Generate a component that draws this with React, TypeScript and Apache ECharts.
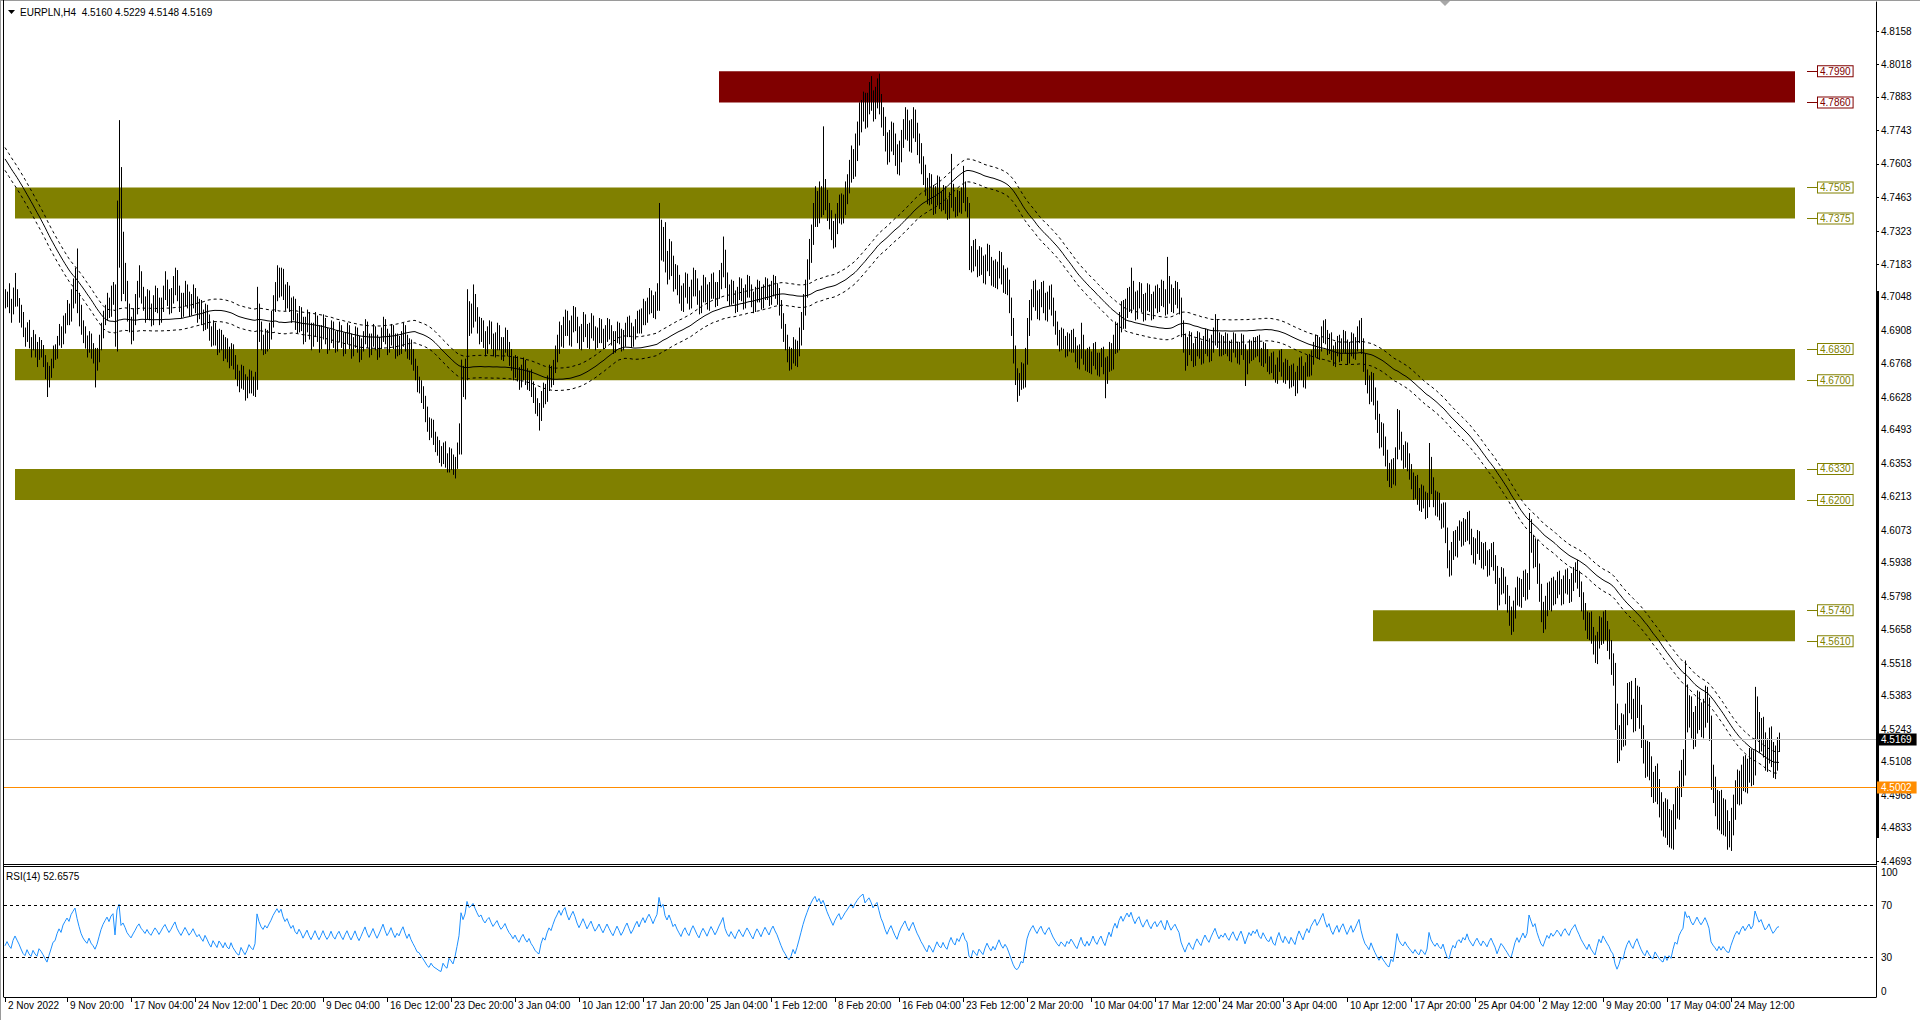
import React, { useEffect, useRef } from "react";
import * as echarts from "echarts";

const FONT = "'Liberation Sans', Arial, sans-serif";

const symbolTitle = "EURPLN,H4  4.5160 4.5229 4.5148 4.5169";
const rsiTitle = "RSI(14) 52.6575";

// closes before the first visible bar (only feed the moving average / RSI), pips above 4.0000
const warmupCloses = [
  8080, 8065, 8090, 8050, 8030, 8060, 8075, 8040, 8020, 8055, 8070, 8045, 8025, 8060, 8080, 8050,
  8035, 8065, 8050, 8030, 8060, 8075, 8045, 8020, 8040, 8065, 8050, 8030, 8055, 8070, 8040, 8025,
  7950, 7900, 7870, 7840, 7860, 7830, 7800, 7820, 7850, 7810, 7790, 7820, 7840, 7800, 7780, 7810, 7790,
  7650, 7450, 7280, 7150, 7080, 7040, 7010, 7050, 7020, 6990, 7030, 7060, 7020, 6985, 7015,
  7050, 7030, 6995, 6970, 7010, 7045, 7020, 6990, 7025, 7060, 7035, 7000, 6980, 7010, 7040,
];

// H4 closes, pips above 4.0000
const closes = [
  7020, 7045, 7010, 6985, 7032, 7060, 7028, 6995, 6950, 6905, 6880, 6912, 6868, 6840, 6872, 6835, 6810, 6850, 6825, 6790,
  6745, 6700, 6735, 6770, 6810, 6820, 6865, 6900, 6875, 6930, 6960, 6990, 6970, 7030, 7065, 7100, 7040,
  6985, 6930, 6890, 6862, 6840, 6875, 6830, 6805, 6770, 6800, 6850,
  6905, 6950, 6985, 7020, 6990, 7045, 7070, 6900, 7250, 7380, 7100, 7150,
  7080, 6990, 6940, 6895, 6955, 7010, 7075, 7120, 7060, 7025, 6985, 7040, 6990, 6960, 7010, 7055, 7020, 6975,
  7015, 7060, 7095, 7050, 7010, 7045, 7090, 7130, 7070, 7030, 6995, 7035, 7075, 7040, 7000, 7025, 7060, 7020, 6985, 7005,
  6970, 6940, 6985, 6950, 6905, 6870, 6915, 6880, 6845, 6890, 6860, 6820, 6855, 6810, 6790, 6830, 6780,
  6745, 6710, 6695, 6740, 6700, 6660, 6685, 6720, 6690, 6670, 6705, 6990,
  6920, 6870, 6840, 6885, 6860, 6905, 6950, 7010, 7060, 7110, 7080,
  7130, 7070, 7030, 7065, 7020, 6980, 7010, 6955, 6930, 6975,
  6940, 6890, 6925, 6960, 6910, 6870, 6905, 6945, 6900, 6860, 6895, 6935, 6890, 6855, 6880, 6920, 6875,
  6850, 6885, 6910, 6870, 6840, 6875, 6905, 6865, 6830, 6860, 6895, 6850, 6815, 6845, 6880, 6915, 6870, 6835, 6865, 6900, 6860, 6825, 6855, 6890, 6930, 6885, 6845, 6870, 6905, 6865, 6830, 6860, 6840,
  6875, 6905, 6860, 6820, 6850, 6805, 6770, 6735, 6690,
  6680, 6645, 6610, 6570, 6520, 6490, 6510, 6465, 6440, 6420, 6395,
  6380, 6415, 6370, 6345, 6390, 6360, 6320, 6355, 6410, 6480,
  6720, 6660, 6740, 6990, 6930,
  6960, 7020, 6975, 6930, 6890, 6920, 6870, 6840, 6885, 6915, 6870, 6830, 6865, 6900, 6855, 6820, 6845, 6880, 6835, 6800,
  6775, 6740, 6770, 6730, 6700, 6735, 6760, 6720, 6690, 6715, 6670, 6640, 6600, 6575, 6560, 6620, 6660, 6640, 6690, 6730, 6710, 6760,
  6810, 6850, 6900, 6870, 6925, 6960, 6915, 6880, 6930, 6975, 6940, 6895, 6860, 6900, 6945, 6910, 6870, 6905, 6940, 6900, 6865, 6890, 6925,
  6890, 6860, 6895, 6930, 6900, 6870, 6845, 6880, 6915, 6885, 6850, 6875, 6910, 6940, 6905, 6870, 6895, 6930, 6960, 6925,
  6965, 7000, 6970, 7010, 7045, 7020, 6990, 7030, 7070, 7310,
  7240, 7290, 7200, 7160, 7230, 7180, 7120, 7150, 7100, 7060,
  7020, 7075, 7110, 7060, 7030, 7085, 7130, 7090, 7045, 7010, 7060, 7100, 7065, 7025, 7070, 7115, 7080, 7040, 7075, 7120, 7160, 7210, 7120, 7070,
  7040, 7085, 7050, 7015, 7060, 7095, 7060, 7030, 7070, 7105, 7075, 7040, 7010, 7055, 7090, 7060, 7025, 7065, 7100, 7070, 7040, 7080, 7110, 7075, 7045,
  7000, 6950, 6900, 6860, 6815, 6780, 6800, 6840, 6790, 6830,
  6880, 6940, 7010, 7080, 7150, 7230, 7300, 7380, 7440, 7400, 7470, 7430, 7500,
  7460, 7410, 7370, 7330, 7290, 7350, 7400, 7440, 7390, 7430, 7480, 7520, 7570, 7620, 7590, 7660, 7720, 7780,
  7820, 7860, 7800, 7850, 7900, 7870, 7830, 7880, 7920, 7860, 7800, 7760,
  7700, 7650, 7700, 7740, 7690, 7640, 7600, 7660, 7710, 7750, 7790, 7740, 7700, 7750, 7790, 7740, 7690, 7650,
  7600, 7560, 7510, 7470, 7520, 7480, 7430, 7470, 7510, 7460,
  7440, 7480, 7430, 7400, 7450, 7490, 7440, 7410, 7460, 7430, 7470, 7500, 7440, 7410, 7220, 7190, 7250,
  7210, 7170, 7220, 7180, 7140, 7190, 7230, 7175, 7130, 7165, 7120, 7160, 7200, 7140, 7100, 7130, 7090,
  7020, 6930, 6820, 6720, 6680, 6700, 6740, 6710, 6800, 6920,
  6990, 7040, 7080, 7030, 6990, 7040, 7075, 7020, 6985, 7030, 7060, 7010, 6960,
  6920, 6880, 6850, 6885, 6860, 6830, 6870, 6845, 6880, 6850,
  6810, 6780, 6820, 6860, 6800, 6770, 6805, 6760, 6790, 6830, 6780, 6750, 6785, 6810, 6760, 6720, 6770,
  6820, 6780, 6850, 6900, 6860, 6940, 6990, 6950,
  7000, 7050, 7020, 7080, 7030, 6990, 7040, 7070, 7020, 6985, 7030, 7065, 7020, 6990, 7035,
  7060, 7020, 7050, 7080, 7040, 7010, 7100, 7060, 7020, 7050, 7075, 7040, 7010, 6920, 6860, 6800, 6840,
  6870, 6820, 6790, 6835, 6870, 6830, 6800, 6845, 6880, 6840, 6810, 6850, 6885, 6920, 6870, 6830,
  6860, 6840, 6870, 6835, 6810, 6845, 6870, 6830, 6800, 6835, 6865, 6820, 6760, 6800, 6840, 6815, 6850,
  6830, 6860, 6810, 6790, 6830, 6800, 6770,
  6760, 6790, 6740, 6720, 6765, 6800, 6750, 6720, 6760, 6730, 6700, 6740, 6710, 6680, 6730, 6770, 6735, 6700, 6745, 6780, 6750, 6800, 6830,
  6860, 6820, 6850, 6890, 6930, 6880, 6840, 6870, 6820, 6790, 6830, 6860, 6810, 6850, 6880, 6840, 6800, 6835, 6870, 6820, 6850, 6890, 6930,
  6850, 6780, 6720, 6690, 6650, 6700, 6640,
  6580, 6520, 6460, 6490, 6430, 6380, 6320, 6290, 6340, 6300, 6380, 6540, 6450,
  6400, 6370, 6410, 6360, 6320,
  6280, 6240, 6270, 6220, 6190, 6230, 6200, 6160, 6200, 6350, 6260, 6210, 6170, 6200, 6150, 6120, 6160,
  6060, 5960, 5920, 5990, 6040, 6000, 6060, 6080, 6040, 6090, 6060, 6120, 6050,
  6010, 5970, 6010, 6040, 5990, 5950, 5990, 5960, 5920, 5960, 5990, 5940, 5890, 5800,
  5840, 5880, 5850, 5810, 5770, 5720, 5690, 5740, 5800, 5840, 5790, 5830, 5870, 5820, 5860,
  6080, 6020, 5960, 6000, 5900, 5820, 5740, 5700, 5760, 5820, 5780, 5840, 5800,
  5830, 5870, 5840, 5800, 5850, 5880, 5840, 5810, 5860, 5890, 5920, 5870, 5830,
  5780, 5740, 5700, 5660, 5700, 5640, 5600, 5560, 5620, 5680, 5640, 5700,
  5660, 5620, 5580, 5520, 5480, 5300, 5160, 5200, 5260, 5220, 5300, 5360,
  5400, 5330, 5280, 5340, 5380, 5300, 5220, 5150, 5100, 5150, 5080, 5020, 4990, 5050, 4990, 4930,
  4880, 4850, 4900, 4810, 4850, 4800, 4880, 4950, 4920, 5010, 5060, 5100, 5370, 5300,
  5330, 5260, 5220, 5280, 5350, 5300, 5260, 5310, 5370, 5320, 5250, 5050, 4990,
  4940, 4880, 4930, 4860, 4900, 4850, 4800, 4790, 4860, 4920, 4980, 5020, 4980, 5040, 5080, 5030, 5070, 5110, 5060, 5100,
  5320, 5260, 5200, 5240, 5180, 5120, 5150, 5200, 5140, 5090, 5120, 5160, 5169,
];

// upper wick above max(open, close), pips
const upperWicks = [
  40, 25, 60, 30, 55, 88, 20, 15, 20, 35, 15, 30, 40, 12, 38, 20, 25, 30, 18, 22,
  15, 30, 25, 20, 35, 30, 20, 35, 25, 40, 20, 45, 30, 50, 60, 70, 150,
  25, 30, 20, 35, 25, 30, 20, 25, 30, 35, 40,
  35, 40, 30, 45, 25, 50, 40, 30, 200, 406, 210, 170,
  40, 35, 30, 25, 45, 50, 40, 60, 35, 30, 25, 40, 35, 30, 45, 40, 30, 25,
  30, 35, 60, 25, 30, 40, 45, 40, 30, 25, 35, 30, 40, 25, 30, 35, 40, 25, 30, 35,
  30, 25, 35, 30, 25, 20, 35, 25, 30, 25, 20, 30, 25, 20, 30, 25, 20,
  25, 20, 30, 25, 20, 25, 30, 25, 20, 25, 30, 100,
  30, 25, 20, 30, 25, 35, 40, 45, 50, 70, 60,
  40, 35, 30, 45, 30, 25, 40, 30, 25, 35,
  30, 25, 40, 35, 25, 30, 35, 40, 25, 30, 35, 40, 25, 30, 35, 30, 25,
  30, 25, 35, 20, 30, 25, 35, 25, 30, 20, 30, 25, 35, 30, 25, 40, 30, 25, 30, 35, 25, 30, 25, 30, 35, 25, 30, 25, 30, 25, 30, 35, 25,
  30, 35, 25, 30, 25, 20, 25, 20, 25,
  25, 20, 30, 25, 20, 25, 30, 25, 20, 25, 30,
  30, 25, 30, 25, 30, 25, 30, 25, 30, 40,
  66, 40, 50, 90, 40,
  60, 80, 40, 30, 35, 40, 30, 35, 40, 35, 30, 25, 35, 40, 30, 25, 35, 40, 30, 25,
  30, 25, 35, 30, 25, 30, 35, 25, 30, 25, 30, 25, 30, 25, 30, 35, 30, 25, 30, 35, 30, 25,
  35, 40, 45, 30, 40, 35, 30, 35, 40, 35, 30, 25, 30, 35, 40, 30, 25, 35, 40, 30, 25, 30, 35,
  30, 25, 35, 30, 25, 30, 35, 25, 30, 25, 30, 35, 30, 25, 30, 35, 30, 25, 30, 35,
  35, 40, 30, 35, 40, 30, 35, 40, 35, 130,
  60, 50, 70, 40, 60, 50, 40, 35, 30, 40,
  35, 30, 40, 35, 30, 35, 40, 30, 35, 30, 35, 40, 30, 35, 40, 30, 35, 30, 35, 40, 30, 90, 35, 30,
  30, 35, 30, 25, 30, 35, 30, 25, 30, 35, 30, 25, 30, 35, 30, 25, 30, 35, 30, 25, 30, 35, 30, 25, 30,
  40, 35, 30, 35, 30, 25, 35, 40, 30, 35,
  40, 45, 50, 40, 55, 60, 50, 60, 70, 50, 60, 40, 260,
  40, 35, 30, 40, 35, 45, 40, 35, 40, 45, 50, 40, 50, 60, 45, 70, 60, 80,
  50, 45, 40, 50, 45, 70, 40, 45, 40, 60, 35, 40,
  40, 35, 45, 40, 35, 40, 45, 40, 35, 40, 50, 40, 45, 40, 50, 40, 35, 40,
  40, 35, 40, 35, 45, 40, 35, 40, 45, 40,
  30, 35, 30, 25, 35, 155, 30, 25, 35, 30, 35, 95, 30, 25, 30, 40, 35,
  40, 35, 40, 35, 40, 35, 40, 35, 40, 35, 40, 35, 40, 35, 40, 35, 40,
  30, 25, 30, 25, 30, 30, 35, 30, 35, 40,
  45, 40, 35, 40, 45, 40, 35, 40, 45, 40, 35, 40, 35,
  30, 25, 30, 35, 30, 25, 30, 25, 30, 35,
  30, 35, 30, 80, 30, 25, 30, 35, 30, 25, 30, 35, 30, 25, 30, 35, 30,
  40, 35, 40, 45, 40, 45, 40, 45,
  40, 35, 40, 90, 35, 40, 35, 40, 35, 40, 35, 40, 35, 40, 35,
  35, 40, 35, 40, 35, 40, 115, 35, 40, 35, 40, 35, 40, 35, 30, 35, 40,
  35, 30, 35, 40, 35, 30, 35, 40, 35, 30, 35, 40, 35, 56, 35, 30,
  30, 25, 30, 25, 30, 25, 30, 25, 30, 25, 30, 25, 30, 25, 30, 25, 30,
  30, 25, 30, 25, 30, 25, 30,
  30, 25, 30, 25, 30, 25, 30, 25, 30, 25, 30, 25, 30, 25, 30, 25, 30, 25, 30, 25, 30, 25, 30,
  30, 25, 30, 35, 20, 25, 30, 25, 30, 25, 30, 25, 30, 25, 30, 25, 30, 25, 30, 25, 30, 35, 20,
  30, 25, 30, 25, 30, 35, 30,
  30, 35, 40, 35, 30, 35, 30, 35, 30, 35, 40, 40, 35,
  35, 30, 35, 30, 35,
  30, 35, 30, 35, 30, 35, 30, 35, 30, 88, 30, 35, 30, 35, 30, 35, 30,
  30, 25, 30, 35, 30, 35, 30, 35, 30, 35, 30, 30, 35,
  30, 35, 30, 35, 30, 35, 30, 35, 30, 35, 30, 35, 30, 35,
  35, 40, 35, 30, 35, 30, 35, 40, 35, 40, 35, 40, 35, 40, 35,
  66, 40, 35, 40, 35, 35, 30, 35, 40, 35, 40, 35, 40,
  35, 30, 35, 30, 35, 30, 35, 30, 35, 30, 20, 30, 35,
  30, 35, 30, 35, 30, 35, 30, 35, 30, 35, 30, 35,
  40, 35, 40, 35, 40, 40, 50, 60, 50, 45, 50, 76,
  40, 45, 40, 117, 45, 40, 45, 40, 50, 45, 40, 50, 45, 40, 50, 45,
  50, 60, 55, 50, 60, 55, 50, 50, 55, 60, 55, 60, 160, 60,
  55, 50, 55, 60, 55, 50, 55, 60, 55, 50, 55, 50, 45,
  55, 50, 55, 60, 55, 50, 55, 60, 55, 50, 50, 55, 50, 55, 50, 55, 50, 55, 50, 55,
  100, 60, 55, 50, 55, 50, 55, 50, 55, 50, 55, 50, 60,
];

// lower wick below min(open, close), pips
const lowerWicks = [
  20, 15, 30, 45, 10, 25, 20, 55, 30, 25, 40, 20, 35, 45, 15, 40, 55, 25, 30, 35,
  40, 70, 30, 25, 20, 25, 30, 20, 40, 25, 35, 30, 40, 25, 30, 45, 60,
  60, 40, 35, 30, 45, 25, 40, 35, 100, 30, 25,
  25, 30, 20, 35, 30, 25, 30, 60, 80, 80, 70, 40,
  50, 45, 40, 45, 30, 25, 35, 30, 40, 35, 45, 30, 40, 35, 30, 25, 40, 45,
  35, 30, 25, 40, 35, 30, 25, 35, 40, 45, 35, 30, 25, 40, 35, 30, 25, 40, 45, 30,
  40, 35, 30, 35, 40, 30, 25, 35, 40, 30, 35, 40, 30, 35, 40, 30, 35,
  40, 35, 45, 30, 40, 45, 35, 40, 45, 35, 40, 45,
  60, 45, 35, 30, 40, 30, 35, 30, 25, 30, 35,
  30, 35, 40, 30, 35, 40, 30, 45, 35, 30,
  35, 40, 30, 25, 40, 45, 30, 25, 40, 45, 30, 25, 40, 45, 30, 25, 40,
  35, 30, 25, 35, 40, 30, 25, 35, 40, 30, 25, 35, 40, 30, 25, 30, 35, 40, 30, 25, 35, 40, 30, 25, 30, 35, 40, 30, 25, 35, 40, 30, 35,
  30, 35, 40, 30, 35, 40, 30, 35, 40,
  35, 40, 30, 45, 35, 40, 30, 35, 40, 35, 40,
  40, 30, 35, 30, 30, 35, 15, 30, 25, 20,
  90, 30, 40, 40, 45,
  35, 40, 30, 35, 40, 30, 35, 40, 30, 35, 40, 30, 35, 40, 30, 35, 40, 30, 35, 40,
  35, 40, 30, 35, 40, 30, 35, 40, 30, 35, 40, 35, 40, 25, 70, 30, 35, 40, 30, 35, 40, 30,
  30, 35, 40, 30, 35, 40, 30, 35, 40, 30, 35, 40, 30, 35, 40, 30, 35, 40, 30, 35, 40, 30, 35,
  35, 30, 25, 35, 30, 25, 35, 30, 25, 35, 30, 25, 35, 30, 25, 35, 30, 25, 35, 30,
  30, 35, 40, 30, 35, 40, 30, 35, 40, 80,
  40, 45, 50, 60, 40, 45, 50, 40, 45, 40,
  30, 35, 30, 40, 35, 30, 35, 40, 30, 35, 30, 35, 40, 30, 35, 30, 40, 35, 30, 35, 40, 30, 35, 40,
  30, 25, 30, 35, 30, 25, 30, 35, 30, 25, 30, 35, 30, 25, 30, 35, 30, 25, 30, 35, 30, 25, 30, 35, 30,
  30, 35, 40, 35, 40, 40, 35, 30, 30, 35,
  30, 35, 30, 40, 35, 30, 40, 35, 40, 60, 45, 50, 40,
  50, 45, 40, 45, 40, 35, 40, 45, 40, 35, 40, 45, 40, 45, 50, 40, 45, 40,
  45, 40, 50, 45, 40, 45, 50, 40, 45, 50, 45, 40,
  45, 50, 40, 45, 50, 45, 40, 45, 50, 40, 45, 40, 45, 50, 40, 45, 50, 45,
  40, 45, 40, 35, 40, 45, 40, 35, 40, 45,
  35, 30, 35, 30, 25, 30, 35, 30, 25, 30, 35, 30, 35, 30, 60, 40, 35,
  35, 40, 35, 40, 35, 40, 35, 40, 35, 40, 35, 40, 35, 40, 35, 40, 35,
  40, 45, 50, 40, 70, 45, 40, 45, 40, 35,
  35, 40, 35, 40, 35, 40, 35, 40, 35, 40, 35, 40, 35,
  30, 35, 30, 25, 30, 35, 30, 25, 30, 35,
  35, 30, 35, 30, 35, 30, 35, 30, 35, 30, 35, 30, 35, 30, 35, 95, 35,
  35, 40, 35, 40, 45, 35, 40, 35,
  35, 40, 35, 40, 35, 40, 35, 40, 35, 40, 35, 40, 35, 40, 35,
  35, 40, 35, 40, 35, 40, 35, 40, 35, 40, 35, 40, 35, 40, 45, 60, 40,
  35, 40, 35, 30, 35, 40, 35, 30, 35, 40, 35, 30, 35, 40, 35, 30,
  30, 35, 30, 35, 30, 35, 30, 35, 30, 35, 30, 35, 84, 35, 30, 35, 30,
  35, 30, 35, 30, 35, 30, 35,
  35, 30, 35, 30, 35, 30, 35, 30, 35, 30, 35, 30, 35, 46, 35, 30, 35, 30, 35, 30, 35, 30, 35,
  35, 30, 35, 30, 35, 30, 35, 30, 35, 30, 35, 30, 35, 30, 35, 30, 35, 30, 35, 30, 35, 30, 35,
  40, 45, 40, 45, 50, 40, 45,
  45, 40, 45, 40, 45, 40, 40, 36, 40, 35, 40, 10, 40,
  35, 40, 35, 40, 35,
  35, 40, 35, 40, 35, 40, 35, 40, 35, 30, 35, 40, 35, 40, 35, 40, 35,
  40, 45, 40, 35, 40, 35, 40, 30, 35, 30, 35, 30, 35,
  40, 35, 40, 35, 40, 35, 40, 35, 40, 35, 40, 35, 40, 60,
  40, 35, 40, 45, 40, 45, 53, 40, 35, 40, 35, 40, 35, 40, 35,
  35, 40, 45, 40, 50, 45, 50, 55, 40, 45, 40, 45, 40,
  35, 40, 35, 40, 35, 40, 35, 40, 35, 40, 35, 40, 35,
  45, 40, 45, 40, 45, 40, 45, 40, 45, 40, 45, 40,
  45, 50, 45, 50, 55, 60, 58, 50, 45, 50, 45, 40,
  50, 45, 50, 45, 50, 55, 55, 50, 60, 55, 50, 60, 55, 50, 60, 55,
  60, 55, 60, 50, 60, 55, 60, 55, 50, 55, 50, 55, 50, 70,
  50, 55, 60, 50, 55, 60, 50, 55, 60, 50, 55, 60, 55,
  60, 55, 60, 55, 60, 55, 60, 40, 55, 60, 55, 50, 55, 50, 55, 50, 55, 50, 55, 50,
  50, 60, 55, 50, 55, 50, 55, 50, 55, 50, 55, 50, 12,
];

const priceTicks = [
  4.8158, 4.8018, 4.7883, 4.7743, 4.7603, 4.7463, 4.7323, 4.7183, 4.7048, 4.6908, 4.6768, 4.6628, 4.6493,
  4.6353, 4.6213, 4.6073, 4.5938, 4.5798, 4.5658, 4.5518, 4.5383, 4.5243, 4.5108, 4.4968, 4.4833, 4.4693,
];
const rsiTicks = [100, 70, 30, 0];
const rsiLevels = [70, 30];

const timeLabels = [
  "2 Nov 2022", "9 Nov 20:00", "17 Nov 04:00", "24 Nov 12:00", "1 Dec 20:00", "9 Dec 04:00", "16 Dec 12:00",
  "23 Dec 20:00", "3 Jan 04:00", "10 Jan 12:00", "17 Jan 20:00", "25 Jan 04:00", "1 Feb 12:00", "8 Feb 20:00",
  "16 Feb 04:00", "23 Feb 12:00", "2 Mar 20:00", "10 Mar 04:00", "17 Mar 12:00", "24 Mar 20:00", "3 Apr 04:00",
  "10 Apr 12:00", "17 Apr 20:00", "25 Apr 04:00", "2 May 12:00", "9 May 20:00", "17 May 04:00", "24 May 12:00",
];
const timeLabelBars = [
  0, 31, 63, 95, 127, 159, 191, 223, 255, 287, 319, 351, 383, 415, 447, 479, 511, 543, 575, 607, 639, 671, 703,
  735, 767, 799, 831, 863,
];

const zoneTops = [4.799, 4.7505, 4.683, 4.633, 4.574];
const zoneBottoms = [4.786, 4.7375, 4.67, 4.62, 4.561];
const zoneStartBars = [357, 5, 5, 5, 684];
const zoneEndBars = [895, 895, 895, 895, 895];
const zoneColors = ["#800000", "#808000", "#808000", "#808000", "#808000"];

const lastPrice = 4.5169;
const levelPrice = 4.5002;

const PRICE_MIN = 4.46805;
const PRICE_MAX = 4.82791;
const CATEGORY_COUNT = 936;
const MA_PERIOD = 80;
const ENVELOPE = 0.001;
const RSI_PERIOD = 14;
const ZONE_TAG_FROM = 901;
const ZONE_TAG_TO = 906;

const toPrice = (pips: number) => 4 + pips / 10000;

function buildOption() {
  const w = warmupCloses.length;
  const all = [...warmupCloses, ...closes].map(toPrice);
  const bars = closes.map((c, i) => {
    const o = i === 0 ? warmupCloses[w - 1] : closes[i - 1];
    const hi = Math.max(o, c) + (upperWicks[i] ?? 0);
    const lo = Math.min(o, c) - (lowerWicks[i] ?? 0);
    return [i, toPrice(lo), toPrice(hi)];
  });
  const ma: number[] = [];
  for (let i = 0; i < closes.length; i++) {
    let s = 0;
    let n = 0;
    for (let k = 0; k < MA_PERIOD; k++) {
      const j = w + i - k;
      if (j >= 0) {
        s += all[j];
        n++;
      }
    }
    ma.push(s / n);
  }
  const maUp = ma.map((v) => v * (1 + ENVELOPE));
  const maDn = ma.map((v) => v * (1 - ENVELOPE));

  const rsiAll: number[] = [];
  let ag = 0;
  let al = 0;
  for (let j = 1; j < all.length; j++) {
    const d = all[j] - all[j - 1];
    const g = d > 0 ? d : 0;
    const l = d < 0 ? -d : 0;
    if (j <= RSI_PERIOD) {
      ag += g / RSI_PERIOD;
      al += l / RSI_PERIOD;
    } else {
      ag = (ag * (RSI_PERIOD - 1) + g) / RSI_PERIOD;
      al = (al * (RSI_PERIOD - 1) + l) / RSI_PERIOD;
    }
    rsiAll[j] = al === 0 ? 100 : 100 - 100 / (1 + ag / al);
  }
  const rsi = closes.map((_, i) => rsiAll[w + i]);

  const cats = Array.from({ length: CATEGORY_COUNT }, (_, i) => String(i));
  const labelMap: Record<number, string> = {};
  timeLabelBars.forEach((b, k) => (labelMap[b] = timeLabels[k]));
  const isLabel = (idx: number) => labelMap[idx] !== undefined;

  const zoneAreas = zoneTops.map((t, k) => [
    { coord: [zoneStartBars[k], t], itemStyle: { color: zoneColors[k] } },
    { coord: [zoneEndBars[k], zoneBottoms[k]] },
  ]);
  const zoneTags: any[] = [];
  zoneTops.forEach((t, k) => {
    [t, zoneBottoms[k]].forEach((v) => {
      zoneTags.push([
        {
          coord: [ZONE_TAG_FROM, v],
          lineStyle: { color: zoneColors[k], width: 1, type: "solid" },
          label: {
            show: true,
            position: "end",
            distance: 1,
            formatter: v.toFixed(4),
            color: zoneColors[k],
            borderColor: zoneColors[k],
            borderWidth: 1,
            backgroundColor: "#fff",
            padding: [0, 2, 0, 2],
            fontSize: 10,
            fontFamily: FONT,
            lineHeight: 10,
          },
        },
        { coord: [ZONE_TAG_TO, v] },
      ]);
    });
  });

  const axisText = { color: "#000", fontSize: 10, fontFamily: FONT };

  return {
    animation: false,
    backgroundColor: "#fff",
    textStyle: { fontFamily: FONT },
    grid: [
      { left: 4, top: 2, width: 1872, height: 862, outerBoundsMode: "none", containLabel: false },
      { left: 4, top: 866, width: 1872, height: 131, outerBoundsMode: "none", containLabel: false },
    ],
    xAxis: [
      {
        type: "category",
        gridIndex: 0,
        data: cats,
        boundaryGap: true,
        axisLine: { show: false },
        axisTick: { show: false },
        axisLabel: { show: false },
        splitLine: { show: false },
      },
      {
        type: "category",
        gridIndex: 1,
        data: cats,
        boundaryGap: true,
        axisLine: { show: true, lineStyle: { color: "#000", width: 1 } },
        axisTick: {
          show: true,
          alignWithLabel: true,
          interval: (idx: number) => isLabel(idx),
          length: 5,
          lineStyle: { color: "#000" },
        },
        axisLabel: {
          ...axisText,
          interval: (idx: number) => isLabel(idx),
          formatter: (_v: string, idx: number) => labelMap[idx] ?? "",
          align: "left",
          padding: [0, 0, 0, 3],
          margin: 3,
          hideOverlap: false,
        },
        splitLine: { show: false },
      },
    ],
    yAxis: [
      {
        type: "value",
        gridIndex: 0,
        position: "right",
        min: PRICE_MIN,
        max: PRICE_MAX,
        axisLine: { show: true, lineStyle: { color: "#000", width: 1 } },
        axisTick: { show: true, customValues: priceTicks, length: 3, lineStyle: { color: "#000" } },
        axisLabel: {
          ...axisText,
          customValues: priceTicks,
          formatter: (v: number) => v.toFixed(4),
          margin: 5,
        },
        splitLine: { show: false },
      },
      {
        type: "value",
        gridIndex: 1,
        position: "right",
        min: 0,
        max: 100,
        axisLine: { show: true, lineStyle: { color: "#000", width: 1 } },
        axisTick: { show: false },
        axisLabel: {
          ...axisText,
          customValues: rsiTicks,
          margin: 5,
          formatter: (v: number) => (v === 100 ? "{t|100}" : v === 0 ? "{b|0}" : String(v)),
          rich: {
            t: { ...axisText, padding: [12, 0, 0, 0] },
            b: { ...axisText, padding: [0, 0, 12, 0] },
          },
        },
        splitLine: { show: false },
      },
    ],
    series: [
      {
        type: "custom",
        name: "bars",
        xAxisIndex: 0,
        yAxisIndex: 0,
        data: bars,
        encode: { x: 0, y: [1, 2] },
        z: 3,
        silent: true,
        renderItem: (_p: any, api: any) => {
          const lo = api.coord([api.value(0), api.value(1)]);
          const hi = api.coord([api.value(0), api.value(2)]);
          const px = Math.round(lo[0]) + 0.5;
          return {
            type: "line",
            shape: { x1: px, y1: lo[1], x2: px, y2: hi[1] },
            style: { stroke: "#000", lineWidth: 1 },
          };
        },
      },
      {
        type: "line",
        name: "ma",
        xAxisIndex: 0,
        yAxisIndex: 0,
        data: ma,
        symbol: "none",
        silent: true,
        z: 4,
        lineStyle: { color: "#000", width: 1 },
        markArea: { silent: true, z: 1, label: { show: false }, data: zoneAreas },
        markLine: {
          silent: true,
          symbol: ["none", "none"],
          z: 5,
          data: [
            {
              yAxis: lastPrice,
              lineStyle: { color: "#c0c0c0", width: 1, type: "solid" },
              label: {
                show: true,
                position: "end",
                distance: 1,
                formatter: lastPrice.toFixed(4),
                color: "#fff",
                backgroundColor: "#000",
                padding: [1, 5, 1, 4],
                fontSize: 10,
                fontFamily: FONT,
              },
            },
            {
              yAxis: levelPrice,
              lineStyle: { color: "#ff8c00", width: 1, type: "solid" },
              label: {
                show: true,
                position: "end",
                distance: 1,
                formatter: levelPrice.toFixed(4),
                color: "#fff",
                backgroundColor: "#ff8c00",
                padding: [1, 5, 1, 4],
                fontSize: 10,
                fontFamily: FONT,
              },
            },
            ...zoneTags,
          ],
        },
      },
      {
        type: "line",
        name: "envUp",
        xAxisIndex: 0,
        yAxisIndex: 0,
        data: maUp,
        symbol: "none",
        silent: true,
        z: 4,
        lineStyle: { color: "#000", width: 1, type: [3, 3] },
      },
      {
        type: "line",
        name: "envDn",
        xAxisIndex: 0,
        yAxisIndex: 0,
        data: maDn,
        symbol: "none",
        silent: true,
        z: 4,
        lineStyle: { color: "#000", width: 1, type: [3, 3] },
      },
      {
        type: "line",
        name: "rsi",
        xAxisIndex: 1,
        yAxisIndex: 1,
        data: rsi,
        symbol: "none",
        silent: true,
        lineStyle: { color: "#1e90ff", width: 1 },
        markLine: {
          silent: true,
          symbol: ["none", "none"],
          label: { show: false },
          lineStyle: { color: "#000", width: 1, type: [3, 3] },
          data: rsiLevels.map((v) => ({ yAxis: v })),
        },
      },
    ],
    graphic: [
      { type: "rect", silent: true, shape: { x: 0, y: 0, width: 1920, height: 1 }, style: { fill: "#9a9a9a" } },
      { type: "rect", silent: true, shape: { x: 0, y: 0, width: 1, height: 1020 }, style: { fill: "#9a9a9a" } },
      { type: "line", silent: true, shape: { x1: 3.5, y1: 0, x2: 3.5, y2: 997 }, style: { stroke: "#000", lineWidth: 1 } },
      { type: "line", silent: true, shape: { x1: 3, y1: 864.5, x2: 1877, y2: 864.5 }, style: { stroke: "#000", lineWidth: 1 } },
      { type: "line", silent: true, shape: { x1: 3, y1: 866.5, x2: 1877, y2: 866.5 }, style: { stroke: "#000", lineWidth: 1 } },
      { type: "rect", silent: true, shape: { x: 1876, y: 291, width: 3, height: 547 }, style: { fill: "#000" } },
      { type: "polygon", silent: true, shape: { points: [[8, 10], [15, 10], [11.5, 14]] }, style: { fill: "#000" } },
      { type: "polygon", silent: true, shape: { points: [[1440, 1], [1450, 1], [1445, 6]] }, style: { fill: "#a8a8a8" } },
      {
        type: "text",
        silent: true,
        x: 20,
        y: 12,
        style: { text: symbolTitle, fill: "#000", fontSize: 10, fontFamily: FONT, verticalAlign: "middle" },
      },
      {
        type: "text",
        silent: true,
        x: 6,
        y: 876,
        style: { text: rsiTitle, fill: "#000", fontSize: 10, fontFamily: FONT, verticalAlign: "middle" },
      },
    ],
  };
}

export default function App() {
  const ref = useRef<HTMLDivElement>(null);
  useEffect(() => {
    document.body.style.margin = "0";
    if (!ref.current) return;
    const chart = echarts.init(ref.current, undefined, { renderer: "svg" });
    chart.setOption(buildOption() as any);
    return () => chart.dispose();
  }, []);
  return <div ref={ref} style={{ width: 1920, height: 1020, background: "#fff" }} />;
}
